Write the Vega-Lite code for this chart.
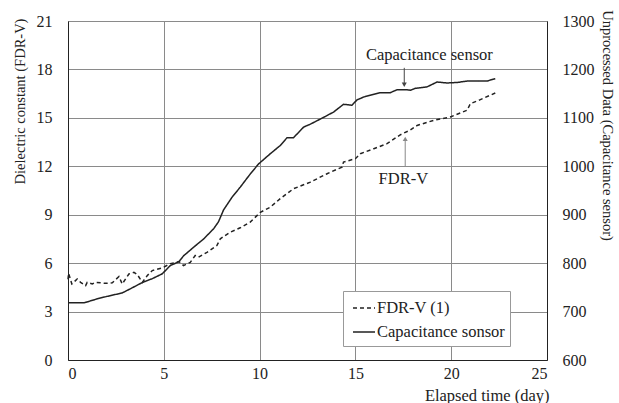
{
  "$schema": "https://vega.github.io/schema/vega-lite/v6.json",
  "width": 479,
  "height": 339,
  "autosize": {"type": "none"},
  "padding": {"left": 68, "top": 21, "right": 72, "bottom": 43},
  "background": "white",
  "config": {
    "font": "Liberation Serif",
    "view": {"stroke": "#888888", "strokeWidth": 1},
    "axis": {"labelFont": "Liberation Serif", "titleFont": "Liberation Serif", "labelColor": "#222", "titleColor": "#222", "titleFontWeight": "normal", "labelFontSize": 16, "titleFontSize": 14.5, "domainColor": "#222", "tickColor": "#222", "gridColor": "#8a8a8a", "gridOpacity": 1, "gridWidth": 1}
  },
  "datasets": {
    "fdr": [
      {"series": "FDR-V (1)", "day": 0, "value": 5.0},
      {"series": "FDR-V (1)", "day": 0.03, "value": 5.37},
      {"series": "FDR-V (1)", "day": 0.2, "value": 4.71},
      {"series": "FDR-V (1)", "day": 0.48, "value": 5.02},
      {"series": "FDR-V (1)", "day": 0.66, "value": 4.81},
      {"series": "FDR-V (1)", "day": 0.92, "value": 4.61},
      {"series": "FDR-V (1)", "day": 1.0, "value": 4.81},
      {"series": "FDR-V (1)", "day": 1.27, "value": 4.71},
      {"series": "FDR-V (1)", "day": 1.44, "value": 4.81},
      {"series": "FDR-V (1)", "day": 1.96, "value": 4.75},
      {"series": "FDR-V (1)", "day": 2.31, "value": 4.78},
      {"series": "FDR-V (1)", "day": 2.66, "value": 5.17},
      {"series": "FDR-V (1)", "day": 2.83, "value": 4.71},
      {"series": "FDR-V (1)", "day": 3.18, "value": 5.33},
      {"series": "FDR-V (1)", "day": 3.44, "value": 5.43},
      {"series": "FDR-V (1)", "day": 3.62, "value": 5.29},
      {"series": "FDR-V (1)", "day": 3.88, "value": 4.81},
      {"series": "FDR-V (1)", "day": 4.14, "value": 5.23},
      {"series": "FDR-V (1)", "day": 4.4, "value": 5.54},
      {"series": "FDR-V (1)", "day": 4.92, "value": 5.71},
      {"series": "FDR-V (1)", "day": 5.34, "value": 5.96},
      {"series": "FDR-V (1)", "day": 5.79, "value": 6.1},
      {"series": "FDR-V (1)", "day": 6.03, "value": 5.85},
      {"series": "FDR-V (1)", "day": 6.38, "value": 6.05},
      {"series": "FDR-V (1)", "day": 6.64, "value": 6.47},
      {"series": "FDR-V (1)", "day": 6.81, "value": 6.37},
      {"series": "FDR-V (1)", "day": 7.25, "value": 6.67},
      {"series": "FDR-V (1)", "day": 7.77, "value": 7.09},
      {"series": "FDR-V (1)", "day": 7.95, "value": 7.51},
      {"series": "FDR-V (1)", "day": 8.47, "value": 7.92},
      {"series": "FDR-V (1)", "day": 8.99, "value": 8.19},
      {"series": "FDR-V (1)", "day": 9.51, "value": 8.54},
      {"series": "FDR-V (1)", "day": 10.04, "value": 9.15},
      {"series": "FDR-V (1)", "day": 10.56, "value": 9.47},
      {"series": "FDR-V (1)", "day": 11.08, "value": 10.0},
      {"series": "FDR-V (1)", "day": 11.77, "value": 10.61},
      {"series": "FDR-V (1)", "day": 12.65, "value": 11.02},
      {"series": "FDR-V (1)", "day": 13.52, "value": 11.54},
      {"series": "FDR-V (1)", "day": 14.3, "value": 11.95},
      {"series": "FDR-V (1)", "day": 14.38, "value": 12.26},
      {"series": "FDR-V (1)", "day": 15.0, "value": 12.47},
      {"series": "FDR-V (1)", "day": 15.26, "value": 12.78},
      {"series": "FDR-V (1)", "day": 15.96, "value": 13.09},
      {"series": "FDR-V (1)", "day": 16.65, "value": 13.4},
      {"series": "FDR-V (1)", "day": 17.34, "value": 13.95},
      {"series": "FDR-V (1)", "day": 17.87, "value": 14.25},
      {"series": "FDR-V (1)", "day": 18.22, "value": 14.53},
      {"series": "FDR-V (1)", "day": 19.09, "value": 14.85},
      {"series": "FDR-V (1)", "day": 19.95, "value": 15.05},
      {"series": "FDR-V (1)", "day": 20.83, "value": 15.47},
      {"series": "FDR-V (1)", "day": 21.0, "value": 15.88},
      {"series": "FDR-V (1)", "day": 21.52, "value": 16.13},
      {"series": "FDR-V (1)", "day": 22.3, "value": 16.54}
    ],
    "cap": [
      {"series": "Capacitance sonsor", "day": 0, "value": 718},
      {"series": "Capacitance sonsor", "day": 0.84, "value": 718},
      {"series": "Capacitance sonsor", "day": 1.5, "value": 726},
      {"series": "Capacitance sonsor", "day": 2.0, "value": 731},
      {"series": "Capacitance sonsor", "day": 2.83, "value": 738.5},
      {"series": "Capacitance sonsor", "day": 3.3, "value": 748},
      {"series": "Capacitance sonsor", "day": 3.88, "value": 760},
      {"series": "Capacitance sonsor", "day": 4.4, "value": 768},
      {"series": "Capacitance sonsor", "day": 4.92, "value": 778},
      {"series": "Capacitance sonsor", "day": 5.34, "value": 795},
      {"series": "Capacitance sonsor", "day": 5.79, "value": 803},
      {"series": "Capacitance sonsor", "day": 6.03, "value": 815},
      {"series": "Capacitance sonsor", "day": 6.56, "value": 833},
      {"series": "Capacitance sonsor", "day": 7.08, "value": 850},
      {"series": "Capacitance sonsor", "day": 7.6, "value": 871},
      {"series": "Capacitance sonsor", "day": 7.85, "value": 885},
      {"series": "Capacitance sonsor", "day": 8.12, "value": 910},
      {"series": "Capacitance sonsor", "day": 8.56, "value": 936},
      {"series": "Capacitance sonsor", "day": 8.99, "value": 957},
      {"series": "Capacitance sonsor", "day": 9.51, "value": 984},
      {"series": "Capacitance sonsor", "day": 9.95, "value": 1005},
      {"series": "Capacitance sonsor", "day": 10.56, "value": 1026},
      {"series": "Capacitance sonsor", "day": 11.08, "value": 1043},
      {"series": "Capacitance sonsor", "day": 11.43, "value": 1059},
      {"series": "Capacitance sonsor", "day": 11.77, "value": 1059},
      {"series": "Capacitance sonsor", "day": 12.3, "value": 1081},
      {"series": "Capacitance sonsor", "day": 12.65, "value": 1087},
      {"series": "Capacitance sonsor", "day": 13.34, "value": 1101},
      {"series": "Capacitance sonsor", "day": 13.86, "value": 1112},
      {"series": "Capacitance sonsor", "day": 14.38, "value": 1128},
      {"series": "Capacitance sonsor", "day": 14.82, "value": 1126},
      {"series": "Capacitance sonsor", "day": 15.08, "value": 1137},
      {"series": "Capacitance sonsor", "day": 15.43, "value": 1143},
      {"series": "Capacitance sonsor", "day": 16.3, "value": 1152},
      {"series": "Capacitance sonsor", "day": 16.82, "value": 1152},
      {"series": "Capacitance sonsor", "day": 17.17, "value": 1158},
      {"series": "Capacitance sonsor", "day": 17.69, "value": 1158},
      {"series": "Capacitance sonsor", "day": 17.87, "value": 1157},
      {"series": "Capacitance sonsor", "day": 18.13, "value": 1161},
      {"series": "Capacitance sonsor", "day": 18.74, "value": 1164},
      {"series": "Capacitance sonsor", "day": 19.26, "value": 1174},
      {"series": "Capacitance sonsor", "day": 19.78, "value": 1172},
      {"series": "Capacitance sonsor", "day": 20.3, "value": 1173},
      {"series": "Capacitance sonsor", "day": 20.83, "value": 1176},
      {"series": "Capacitance sonsor", "day": 21.52, "value": 1176},
      {"series": "Capacitance sonsor", "day": 21.87, "value": 1176},
      {"series": "Capacitance sonsor", "day": 22.3, "value": 1181}
    ],
    "arrows": [
      {"label": "cap", "day": 17.55, "y1": 18.1, "y2": 17.05, "dir": "down", "color": "#444"},
      {"label": "fdr", "day": 17.6, "y1": 12.0, "y2": 13.7, "dir": "up", "color": "#888"}
    ],
    "labels": [
      {"text": "Capacitance sensor", "day": 18.86, "y": 18.6},
      {"text": "FDR-V", "day": 17.5, "y": 10.9}
    ]
  },
  "layer": [
    {
      "layer": [
        {
          "data": {"name": "fdr"},
          "mark": {"type": "line", "strokeWidth": 1.5, "color": "#222"},
          "encoding": {
            "x": {"field": "day", "type": "quantitative", "scale": {"domain": [0, 25], "nice": false},
              "axis": {"title": "Elapsed time (day)", "titleFontSize": 16.5, "values": [0, 5, 10, 15, 20, 25], "grid": true, "tickSize": 0, "labelPadding": 5, "titleAnchor": null, "titleAlign": "right", "titleX": 481, "titleY": 40, "titleBaseline": "alphabetic"}},
            "y": {"field": "value", "type": "quantitative", "scale": {"domain": [0, 21], "nice": false},
              "axis": {"title": "Dielectric constant (FDR-V)", "values": [0, 3, 6, 9, 12, 15, 18, 21], "grid": true, "tickSize": 0, "labelPadding": 16, "titleAnchor": null, "titleAlign": "center", "titleBaseline": "middle", "titleX": -48, "titleY": 80}},
            "strokeDash": {"field": "series", "type": "nominal",
              "scale": {"domain": ["FDR-V (1)", "Capacitance sonsor"], "range": [[4, 3], [1, 0]]},
              "legend": {"title": null, "orient": "none", "legendX": 275, "legendY": 270, "symbolType": "stroke", "symbolSize": 484, "symbolStrokeColor": "#222", "symbolStrokeWidth": 1.5, "labelFont": "Liberation Serif", "labelFontSize": 16.5, "labelColor": "#222", "strokeColor": "#999", "fillColor": "white", "padding": 5, "rowPadding": 3, "labelOffset": 1, "symbolOffset": 4}}
          }
        },
        {
          "data": {"name": "arrows"},
          "mark": {"type": "rule", "strokeWidth": 1},
          "encoding": {
            "x": {"field": "day", "type": "quantitative"},
            "y": {"field": "y1", "type": "quantitative"},
            "y2": {"field": "y2"},
            "color": {"field": "color", "type": "nominal", "scale": null}
          }
        },
        {
          "data": {"name": "arrows"},
          "mark": {"type": "point", "filled": true, "size": 25, "opacity": 1},
          "encoding": {
            "x": {"field": "day", "type": "quantitative"},
            "y": {"field": "y2", "type": "quantitative"},
            "shape": {"field": "dir", "type": "nominal", "scale": {"domain": ["down", "up"], "range": ["triangle-down", "triangle-up"]}, "legend": null},
            "color": {"field": "color", "type": "nominal", "scale": null}
          }
        },
        {
          "data": {"name": "labels"},
          "mark": {"type": "text", "font": "Liberation Serif", "fontSize": 16.5, "color": "#222", "baseline": "alphabetic", "align": "center"},
          "encoding": {
            "x": {"field": "day", "type": "quantitative"},
            "y": {"field": "y", "type": "quantitative"},
            "text": {"field": "text"}
          }
        }
      ]
    },
    {
      "data": {"name": "cap"},
      "mark": {"type": "line", "strokeWidth": 1.5, "color": "#222"},
      "encoding": {
        "x": {"field": "day", "type": "quantitative"},
        "y": {"field": "value", "type": "quantitative", "scale": {"domain": [600, 1300], "nice": false},
          "axis": {"orient": "right", "title": "Unprocessed Data (Capacitance sensor)", "format": "d", "values": [600, 700, 800, 900, 1000, 1100, 1200, 1300], "grid": false, "tickSize": 0, "labelPadding": 15, "titleAnchor": null, "titleAlign": "center", "titleBaseline": "middle", "titleX": 59, "titleY": 104}},
        "strokeDash": {"field": "series", "type": "nominal"}
      }
    }
  ],
  "resolve": {"scale": {"y": "independent"}}
}
